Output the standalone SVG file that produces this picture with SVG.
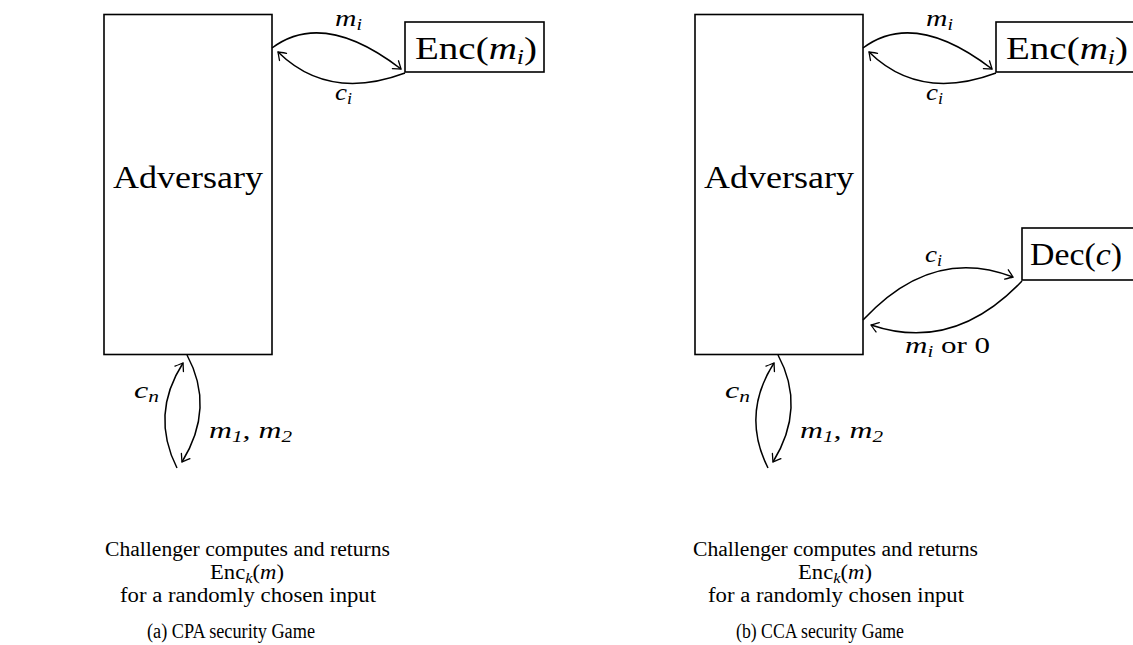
<svg xmlns="http://www.w3.org/2000/svg" width="1133" height="645" viewBox="0 0 1133 645">
<style>
.box{fill:#fff;stroke:#000;stroke-width:1.6}
.con{fill:none;stroke:#000;stroke-width:1.5}
text{font-family:"Liberation Serif","DejaVu Serif",serif;fill:#000}
.big{font-size:32px}
.lbl{font-size:24px}
.body{font-size:20.5px}
.cap{font-size:20px}
.it{font-style:italic}
</style>
<defs>
<marker id="ah" viewBox="-10 -6 12 12" refX="0" refY="0" markerWidth="12" markerHeight="12" markerUnits="userSpaceOnUse" orient="auto">
<path d="M -7 -5 Q -2 -1.5 0 0 Q -2 1.5 -7 5" fill="none" stroke="#000" stroke-width="1.3" stroke-linecap="round"/>
</marker>
</defs>
<rect width="1133" height="645" fill="#fff"/>

<g id="cpa-adversary">
<rect class="box" x="104" y="14.5" width="168" height="340"/>
<text class="big" x="113" y="188" textLength="150" lengthAdjust="spacingAndGlyphs">Adversary</text>
</g>
<g id="cpa-enc">
<rect class="box" x="405" y="22" width="139" height="50"/>
<text class="big" x="415" y="59" textLength="122" lengthAdjust="spacingAndGlyphs">Enc(<tspan class="it">m</tspan><tspan class="it" font-size="21" dy="5">i</tspan><tspan dy="-5">)</tspan></text>
</g>

<g id="cca-adversary">
<rect class="box" x="695" y="14.5" width="168" height="340"/>
<text class="big" x="704" y="188" textLength="150" lengthAdjust="spacingAndGlyphs">Adversary</text>
</g>
<g id="cca-enc">
<rect class="box" x="996" y="22" width="139" height="50"/>
<text class="big" x="1006" y="59" textLength="122" lengthAdjust="spacingAndGlyphs">Enc(<tspan class="it">m</tspan><tspan class="it" font-size="21" dy="5">i</tspan><tspan dy="-5">)</tspan></text>
</g>
<g id="cca-dec">
<rect class="box" x="1022" y="228" width="120" height="52"/>
<text class="big" x="1030" y="265" textLength="92" lengthAdjust="spacingAndGlyphs">Dec(<tspan class="it">c</tspan>)</text>
</g>

<g id="connectors">
<path class="con" d="M 272 48 Q 323.5 9.5 401 69" marker-end="url(#ah)"/>
<path class="con" d="M 405 73 Q 328.5 101.5 278 52" marker-end="url(#ah)"/>
<path class="con" d="M 187 355 Q 215.5 407.5 182 462" marker-end="url(#ah)"/>
<path class="con" d="M 177 468 Q 150 414.5 183 363" marker-end="url(#ah)"/>

<path class="con" d="M 863 48 Q 914.5 9.5 992 69" marker-end="url(#ah)"/>
<path class="con" d="M 996 73 Q 919.5 101.5 869 52" marker-end="url(#ah)"/>
<path class="con" d="M 778 355 Q 806.5 407.5 773 462" marker-end="url(#ah)"/>
<path class="con" d="M 768 468 Q 741 414.5 774 363" marker-end="url(#ah)"/>
<path class="con" d="M 863 320 Q 932 245.5 1013 277" marker-end="url(#ah)"/>
<path class="con" d="M 1022 281 Q 953.5 353 871 325" marker-end="url(#ah)"/>
</g>

<g id="labels">
<text class="lbl it" x="335" y="26" textLength="27" lengthAdjust="spacingAndGlyphs">m<tspan font-size="16" dy="4">i</tspan></text>
<text class="lbl it" x="335" y="100" textLength="17" lengthAdjust="spacingAndGlyphs">c<tspan font-size="16" dy="4">i</tspan></text>
<text class="lbl it" x="134" y="398" textLength="25" lengthAdjust="spacingAndGlyphs">c<tspan font-size="16" dy="4">n</tspan></text>
<text class="lbl it" x="209" y="438" textLength="83" lengthAdjust="spacingAndGlyphs">m<tspan font-size="16" dy="4">1</tspan><tspan dy="-4">, m</tspan><tspan font-size="16" dy="4">2</tspan></text>

<text class="lbl it" x="926" y="26" textLength="27" lengthAdjust="spacingAndGlyphs">m<tspan font-size="16" dy="4">i</tspan></text>
<text class="lbl it" x="926" y="100" textLength="17" lengthAdjust="spacingAndGlyphs">c<tspan font-size="16" dy="4">i</tspan></text>
<text class="lbl it" x="725" y="398" textLength="25" lengthAdjust="spacingAndGlyphs">c<tspan font-size="16" dy="4">n</tspan></text>
<text class="lbl it" x="800" y="438" textLength="83" lengthAdjust="spacingAndGlyphs">m<tspan font-size="16" dy="4">1</tspan><tspan dy="-4">, m</tspan><tspan font-size="16" dy="4">2</tspan></text>
<text class="lbl it" x="925" y="262" textLength="17" lengthAdjust="spacingAndGlyphs">c<tspan font-size="16" dy="4">i</tspan></text>
<text class="lbl" x="905" y="353" textLength="85" lengthAdjust="spacingAndGlyphs"><tspan class="it">m</tspan><tspan class="it" font-size="16" dy="4">i</tspan><tspan dy="-4"> or 0</tspan></text>
</g>

<g id="cpa-text">
<text class="body" x="105" y="556" textLength="285" lengthAdjust="spacingAndGlyphs">Challenger computes and returns</text>
<text class="body" x="210" y="579" textLength="74" lengthAdjust="spacingAndGlyphs">Enc<tspan class="it" font-size="15" dy="4">k</tspan><tspan dy="-4">(</tspan><tspan class="it">m</tspan>)</text>
<text class="body" x="120" y="602" textLength="256" lengthAdjust="spacingAndGlyphs">for a randomly chosen input</text>
<text class="cap" x="147" y="638" textLength="168" lengthAdjust="spacingAndGlyphs">(a) CPA security Game</text>
</g>
<g id="cca-text">
<text class="body" x="693" y="556" textLength="285" lengthAdjust="spacingAndGlyphs">Challenger computes and returns</text>
<text class="body" x="798" y="579" textLength="74" lengthAdjust="spacingAndGlyphs">Enc<tspan class="it" font-size="15" dy="4">k</tspan><tspan dy="-4">(</tspan><tspan class="it">m</tspan>)</text>
<text class="body" x="708" y="602" textLength="256" lengthAdjust="spacingAndGlyphs">for a randomly chosen input</text>
<text class="cap" x="736" y="638" textLength="168" lengthAdjust="spacingAndGlyphs">(b) CCA security Game</text>
</g>
</svg>
